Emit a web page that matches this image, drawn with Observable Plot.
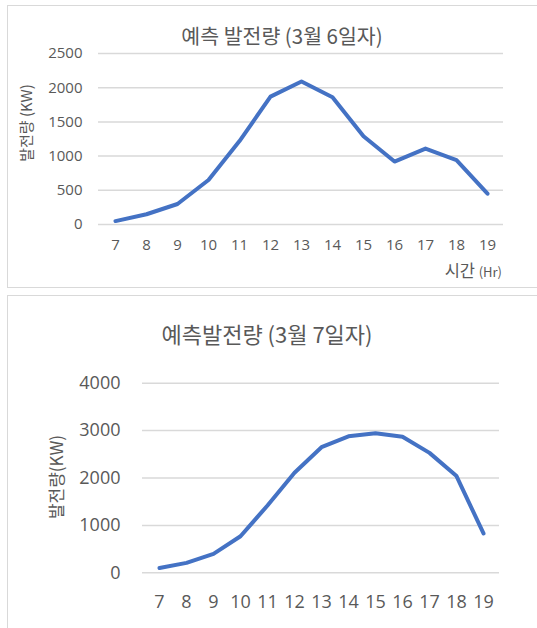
<!DOCTYPE html>
<html><head><meta charset="utf-8">
<script src="https://cdn.jsdelivr.net/npm/d3@7"></script>
<script src="https://cdn.jsdelivr.net/npm/@observablehq/plot@0.6"></script>
<style>
body{margin:0;background:#fff;width:537px;height:628px;overflow:hidden;position:relative;font-family:"Noto Sans CJK KR",sans-serif;color:#595959}
.box{position:absolute;border:1.5px solid #d9d9d9;box-sizing:border-box}
.t{position:absolute;white-space:nowrap;line-height:1;transform:translate(-50%,-50%)}
.plot{position:absolute;left:0}
</style></head><body>
<div class="box" style="left:7px;top:5px;width:560px;height:283px"></div>
<div class="box" style="left:7px;top:295px;width:560px;height:360px"></div>
<div class="t" style="left:282px;top:35px;font-size:20.5px">예측 발전량 (3월 6일자)</div>
<div class="t" style="left:25px;top:123px;font-size:15px;transform:translate(-50%,-50%) rotate(-90deg)">발전량 (KW)</div>
<div class="t" style="left:502px;top:270px;font-size:16.5px;transform:translate(-100%,-50%)">시간 <span style="font-size:13px">(Hr)</span></div>
<div class="t" style="left:267px;top:333px;font-size:22px">예측발전량 (3월 7일자)</div>
<div class="t" style="left:55px;top:477px;font-size:17px;transform:translate(-50%,-50%) rotate(-90deg)">발전량(KW)</div>
<div id="c1" class="plot" style="top:0"></div>
<div id="c2" class="plot" style="top:290px"></div>
<script>
const hours = [7, 8, 9, 10, 11, 12, 13, 14, 15, 16, 17, 18, 19];
const march6 = [50, 150, 300, 650, 1220, 1870, 2090, 1860, 1290, 920, 1110, 940, 450];
const march7 = [100, 210, 400, 770, 1420, 2110, 2650, 2880, 2945, 2870, 2530, 2040, 830];
const yTicks1 = [0, 500, 1000, 1500, 2000, 2500];
const yTicks2 = [0, 1000, 2000, 3000, 4000];

const d1 = hours.map((h, i) => ({hour: h, kw: march6[i]}));
const d2 = hours.map((h, i) => ({hour: h, kw: march7[i]}));

function chart(data, yTicks, yMax, opts) {
  return Plot.plot({
    width: 537, height: opts.height,
    marginLeft: opts.ml, marginRight: opts.mr, marginTop: opts.mt, marginBottom: opts.mb,
    style: {fontFamily: '"Open Sans", sans-serif', fontSize: opts.fs + "px", color: "#595959", background: "transparent", overflow: "visible"},
    x: {type: "point", domain: hours, padding: 0.5},
    y: {domain: [0, yMax]},
    marks: [
      Plot.gridY(yTicks, {stroke: "#d9d9d9", strokeOpacity: 1, strokeWidth: 1.5}),
      Plot.axisY(yTicks, {tickSize: 0, tickPadding: opts.yp, label: null, fill: "#595959", tickFormat: d => String(d)}),
      Plot.axisX(hours, {tickSize: 0, tickPadding: opts.xp, label: null, fill: "#595959", tickFormat: d => String(d)}),
      Plot.line(data, {x: "hour", y: "kw", stroke: "#4472C4", strokeWidth: 4, strokeLinejoin: "round", strokeLinecap: "round"})
    ]
  });
}

document.getElementById("c1").append(chart(d1, yTicks1, 2500, {height: 290, ml: 98, mr: 34, mt: 53, mb: 66, fs: 15, yp: 16, xp: 15}));
document.getElementById("c2").append(chart(d2, yTicks2, 4000, {height: 338, ml: 142, mr: 38, mt: 92.7, mb: 55.7, fs: 18, yp: 22, xp: 22}));
</script>
</body></html>
